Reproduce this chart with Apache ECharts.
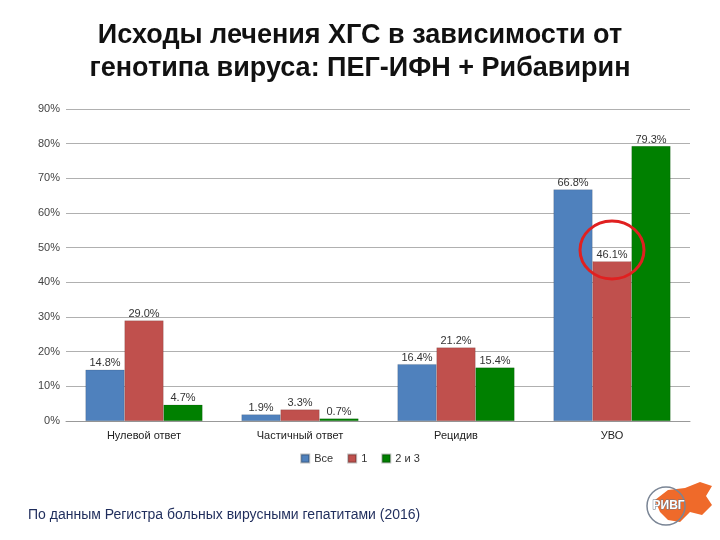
<!DOCTYPE html>
<html><head><meta charset="utf-8">
<script src="https://cdn.jsdelivr.net/npm/echarts@6/dist/echarts.min.js"></script>
<style>html,body{margin:0;padding:0;background:#fff}#c{width:720px;height:540px}</style>
</head><body><div id="c"></div>
<script>
var categories = ['Нулевой ответ', 'Частичный ответ', 'Рецидив', 'УВО'];
var seriesNames = ['Все', '1', '2 и 3'];
var vseValues = [14.8, 1.9, 16.4, 66.8];
var g1Values = [29.0, 3.3, 21.2, 46.1];
var g23Values = [4.7, 0.7, 15.4, 79.3];
var yTicks = [0, 10, 20, 30, 40, 50, 60, 70, 80, 90];
var colors = ['#4f81bd', '#c0504d', '#008000'];

var chart = echarts.init(document.getElementById('c'));
var lbl = {show: true, position: 'top', distance: 1, color: '#333', fontSize: 11, fontFamily: 'Liberation Sans, Arial', formatter: function(p){return p.value.toFixed(1) + '%';}};
function mk(name, data, color, extra) {
  return {name: name, type: 'bar', data: data, barGap: '0%', barCategoryGap: '25%',
    itemStyle: {color: color, borderColor: 'rgba(0,0,0,0.25)', borderWidth: 0.5},
    label: Object.assign({}, lbl, extra || {})};
}
var g1Data = g1Values.map(function(v, i){
  if (categories[i] === 'УВО') return {value: v, label: {backgroundColor: '#fff', distance: 0, padding: [1,3]}};
  return v;
});
chart.setOption({
  animation: false,
  title: {text: 'Исходы лечения ХГС в зависимости от\nгенотипа вируса: ПЕГ-ИФН + Рибавирин', left: 'center', top: 14,
    textStyle: {fontSize: 27, fontWeight: 'bold', fontFamily: 'Liberation Sans, Arial', color: '#111', lineHeight: 33}},
  legend: {data: seriesNames, bottom: 71, left: 'center', icon: 'rect', itemWidth: 8, itemHeight: 8, itemGap: 14,
    textStyle: {fontSize: 11, color: '#333', fontFamily: 'Liberation Sans, Arial'}},
  grid: {left: 66, right: 30, top: 109, bottom: 119},
  xAxis: {type: 'category', data: categories,
    axisLine: {lineStyle: {color: '#999'}}, axisTick: {show: false},
    axisLabel: {color: '#222', fontSize: 11, fontFamily: 'Liberation Sans, Arial', margin: 9}},
  yAxis: {type: 'value', min: 0, max: 90, interval: 10,
    axisLine: {show: false}, axisTick: {show: false},
    splitLine: {lineStyle: {color: '#b0b0b0', width: 1.2}},
    axisLabel: {color: '#444', fontSize: 11, fontFamily: 'Liberation Sans, Arial', margin: 6, formatter: function(v){return yTicks.indexOf(v) >= 0 ? v + '%' : '';}}},
  series: [mk(seriesNames[0], vseValues, colors[0]), mk(seriesNames[1], g1Data, colors[1]), mk(seriesNames[2], g23Values, colors[2])],
  graphic: [
    {type: 'text', left: 28, top: 508, style: {text: 'По данным Регистра больных вирусными гепатитами (2016)', fontSize: 14, fill: '#1f2d5c', fontFamily: 'Liberation Sans, Arial'}},
    {type: 'ellipse', shape: {cx: 612, cy: 250, rx: 32, ry: 29}, style: {fill: 'none', stroke: '#e02020', lineWidth: 3}, z: 100},
    {type: 'polygon', shape: {points: [[655,500],[668,490],[685,488],[700,482],[712,486],[706,496],[712,505],[702,515],[690,512],[680,522],[668,520],[660,512]]}, style: {fill: '#ef6a2a'}},
    {type: 'circle', shape: {cx: 666, cy: 506, r: 19}, style: {fill: 'none', stroke: '#7a8595', lineWidth: 1.5}},
    {type: 'text', left: 652, top: 499, style: {text: 'РИВГ', fontSize: 12, fontWeight: 'bold', fill: '#fff', stroke: '#6a7585', lineWidth: 1, fontFamily: 'Liberation Sans, Arial'}}
  ]
});
</script></body></html>
